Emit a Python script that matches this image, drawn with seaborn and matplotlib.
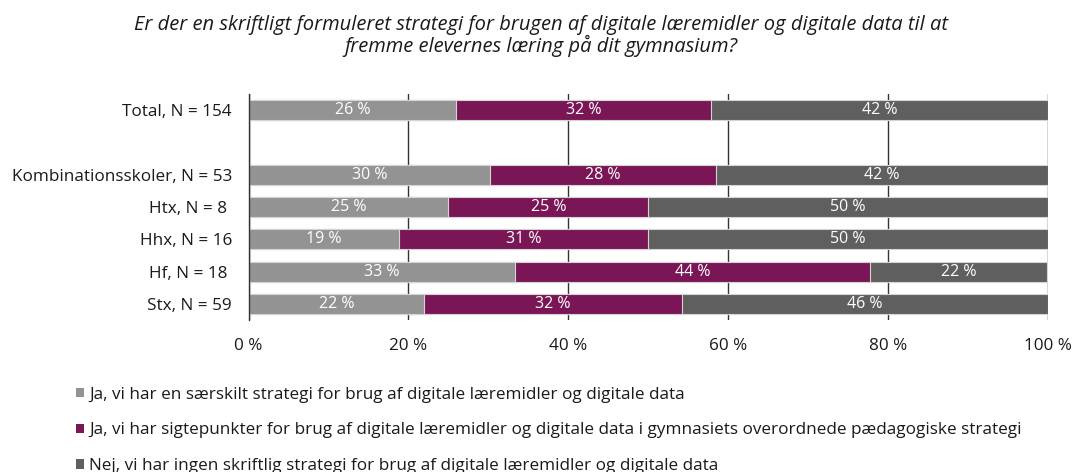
import matplotlib
matplotlib.use("Agg")
import matplotlib.pyplot as plt
import seaborn as sns
import pandas as pd
from matplotlib.patches import Patch

sns.set_theme(style="white")
plt.rcParams['font.family'] = ['Open Sans', 'DejaVu Sans']

# ---- data ----
categories = ["Total, N = 154", "", "Kombinationsskoler, N = 53", "Htx, N = 8 ",
              "Hhx, N = 16", "Hf, N = 18 ", "Stx, N = 59"]
rows = ["Total, N = 154", "Kombinationsskoler, N = 53", "Htx, N = 8 ",
        "Hhx, N = 16", "Hf, N = 18 ", "Stx, N = 59"]
ja_saerskilt = [26.0, 30.2, 25.0, 18.8, 33.3, 22.0]
ja_sigtepunkter = [31.8, 28.3, 25.0, 31.2, 44.4, 32.2]
nej_ingen = [42.2, 41.5, 50.0, 50.0, 22.2, 45.8]
series_names = [
    "Ja, vi har en særskilt strategi for brug af digitale læremidler og digitale data",
    "Ja, vi har sigtepunkter for brug af digitale læremidler og digitale data i gymnasiets overordnede pædagogiske strategi",
    "Nej, vi har ingen skriftlig strategi for brug af digitale læremidler og digitale data",
]
title = ("Er der en skriftligt formuleret strategi for brugen af digitale læremidler og digitale data til at\n"
         "fremme elevernes læring på dit gymnasium?")
xticks = [0, 20, 40, 60, 80, 100]
xtick_labels = ["0 %", "20 %", "40 %", "60 %", "80 %", "100 %"]

colors = ["#939393", "#7a1656", "#5f5f5f"]

df = pd.DataFrame({"cat": rows, "s1": ja_saerskilt, "s2": ja_sigtepunkter, "s3": nej_ingen})
df["c1"] = df["s1"]
df["c2"] = df["s1"] + df["s2"]
df["c3"] = df["s1"] + df["s2"] + df["s3"]

fig = plt.figure(figsize=(10.76, 4.72), dpi=100)
ax = fig.add_axes([0.231, 0.322, 0.743, 0.479])

for col, colr in zip(["c3", "c2", "c1"], colors[::-1]):
    sns.barplot(data=df, x=col, y="cat", order=categories, color=colr, ax=ax,
                width=0.62, edgecolor="#d4d4d4", linewidth=0.8, saturation=1,
                orient="h", zorder=3)

ax.set_xlim(0, 100)
ax.set_ylim(6.5, -0.5)
ax.set_xticks(xticks)
ax.set_xticklabels(xtick_labels)
ax.set_xlabel("")
ax.set_ylabel("")
ax.tick_params(axis="both", length=0, labelsize=12.3, colors="#1a1a1a")
ax.tick_params(axis="x", pad=13)
ax.tick_params(axis="y", pad=12)
ax.grid(axis="x", color="#333333", linewidth=1.0, zorder=0)
ax.grid(axis="y", visible=False)
ax.set_axisbelow(True)
for s in ["top", "right", "bottom"]:
    ax.spines[s].set_visible(False)
ax.spines["left"].set_color("#333333")
ax.spines["left"].set_linewidth(1.0)
ax.spines["left"].set_zorder(4)

# value labels
for i, r in enumerate(rows):
    ypos = categories.index(r)
    starts = [0, df["c1"][i], df["c2"][i]]
    vals = [df["s1"][i], df["s2"][i], df["s3"][i]]
    for st, v in zip(starts, vals):
        ax.text(st + v / 2, ypos, f"{v:.0f} %", ha="center", va="center",
                color="white", fontsize=11.5, zorder=5)

fig.text(0.503, 1 - 15 / 472, title, ha="center", va="top", style="italic",
         fontsize=14.5, color="#1a1a1a", linespacing=1.02)

handles = [Patch(facecolor=c, edgecolor="none") for c in colors]
fig.legend(handles, series_names, loc="upper left", bbox_to_anchor=(69 / 1076, 1 - 380 / 472),
           frameon=False, fontsize=12.3, handlelength=0.47, handleheight=0.47,
           handletextpad=0.3, labelspacing=1.15, labelcolor="#1a1a1a", borderaxespad=0)

fig.savefig("out.png", dpi=100)
